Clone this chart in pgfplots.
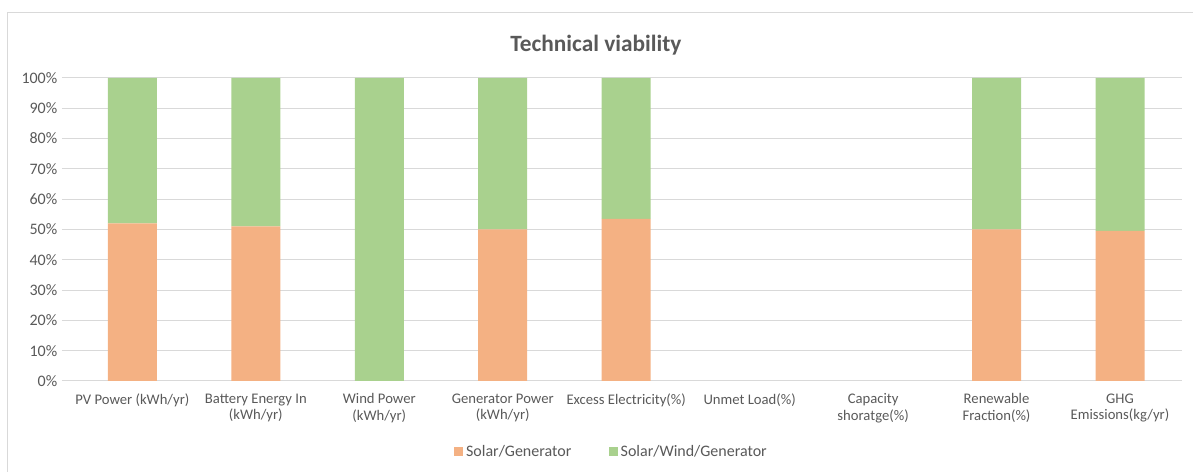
\documentclass[border=0pt]{standalone}
\usepackage{pgfplots}
\pgfplotsset{compat=1.18}
\usepackage{fontspec}
\setmainfont{Carlito}
\definecolor{sgorange}{HTML}{F4B183}
\definecolor{swggreen}{HTML}{A9D18E}
\definecolor{gridgray}{HTML}{D9D9D9}
\definecolor{txtgray}{HTML}{595959}
\begin{document}
\begin{tikzpicture}
% page frame: 1193 x 472 px at 0.75pt per px
\path (0pt,0pt) rectangle (894.75pt,354pt);
\draw[gridgray] (5.25pt,0pt) -- (5.25pt,345pt) -- (894.75pt,345pt);
\node[text=txtgray,font=\fontsize{17.5}{20}\selectfont\bfseries] at (447pt,320.25pt) {Technical viability};
\begin{axis}[
    at={(46.5pt,68.25pt)}, anchor=south west,
    scale only axis,
    width=840pt, height=227.25pt,
    ybar stacked,
    bar width=36.75pt,
    xmin=-0.57, xmax=8.5,
    ymin=0, ymax=100,
    xtick=data,
    xticklabels={PV Power (kWh/yr),Battery Energy In\\(kWh/yr),Wind Power\\(kWh/yr),Generator Power\\(kWh/yr),Excess Electricity(\%),Unmet Load(\%),Capacity\\shoratge(\%),Renewable\\Fraction(\%),GHG\\Emissions(kg/yr)},
    xticklabel style={align=center, font=\fontsize{11}{12.5}\selectfont, text=txtgray, yshift=-6pt},
    ytick={0,10,...,100},
    yticklabel={\pgfmathprintnumber{\tick}\%},
    yticklabel style={font=\fontsize{12}{13}\selectfont, text=txtgray},
    /pgf/number format/assume math mode=true,
    ymajorgrids=true,
    grid style={gridgray, line width=0.75pt},
    axis line style={draw=none},
    axis x line*=bottom,
    x axis line style={gridgray, line width=0.75pt, -},
    major tick length=0pt,
    legend style={at={(0.491,-0.234)}, anchor=center, draw=none, legend columns=2,
        font=\fontsize{12}{13}\selectfont, text=txtgray,
        /tikz/every even column/.append style={column sep=26pt}},
    legend image code/.code={\fill[#1,draw=none] (0pt,-3.5pt) rectangle (7pt,3.5pt);},
]
\addplot[fill=sgorange, draw=none] coordinates {
    (0,52) (1,51) (2,0) (3,50) (4,53.5) (5,0) (6,0) (7,50) (8,49.5)
};
\addplot[fill=swggreen, draw=none] coordinates {
    (0,48) (1,49) (2,100) (3,50) (4,46.5) (5,0) (6,0) (7,50) (8,50.5)
};
\legend{Solar/Generator, Solar/Wind/Generator}
\end{axis}
\end{tikzpicture}
\end{document}
